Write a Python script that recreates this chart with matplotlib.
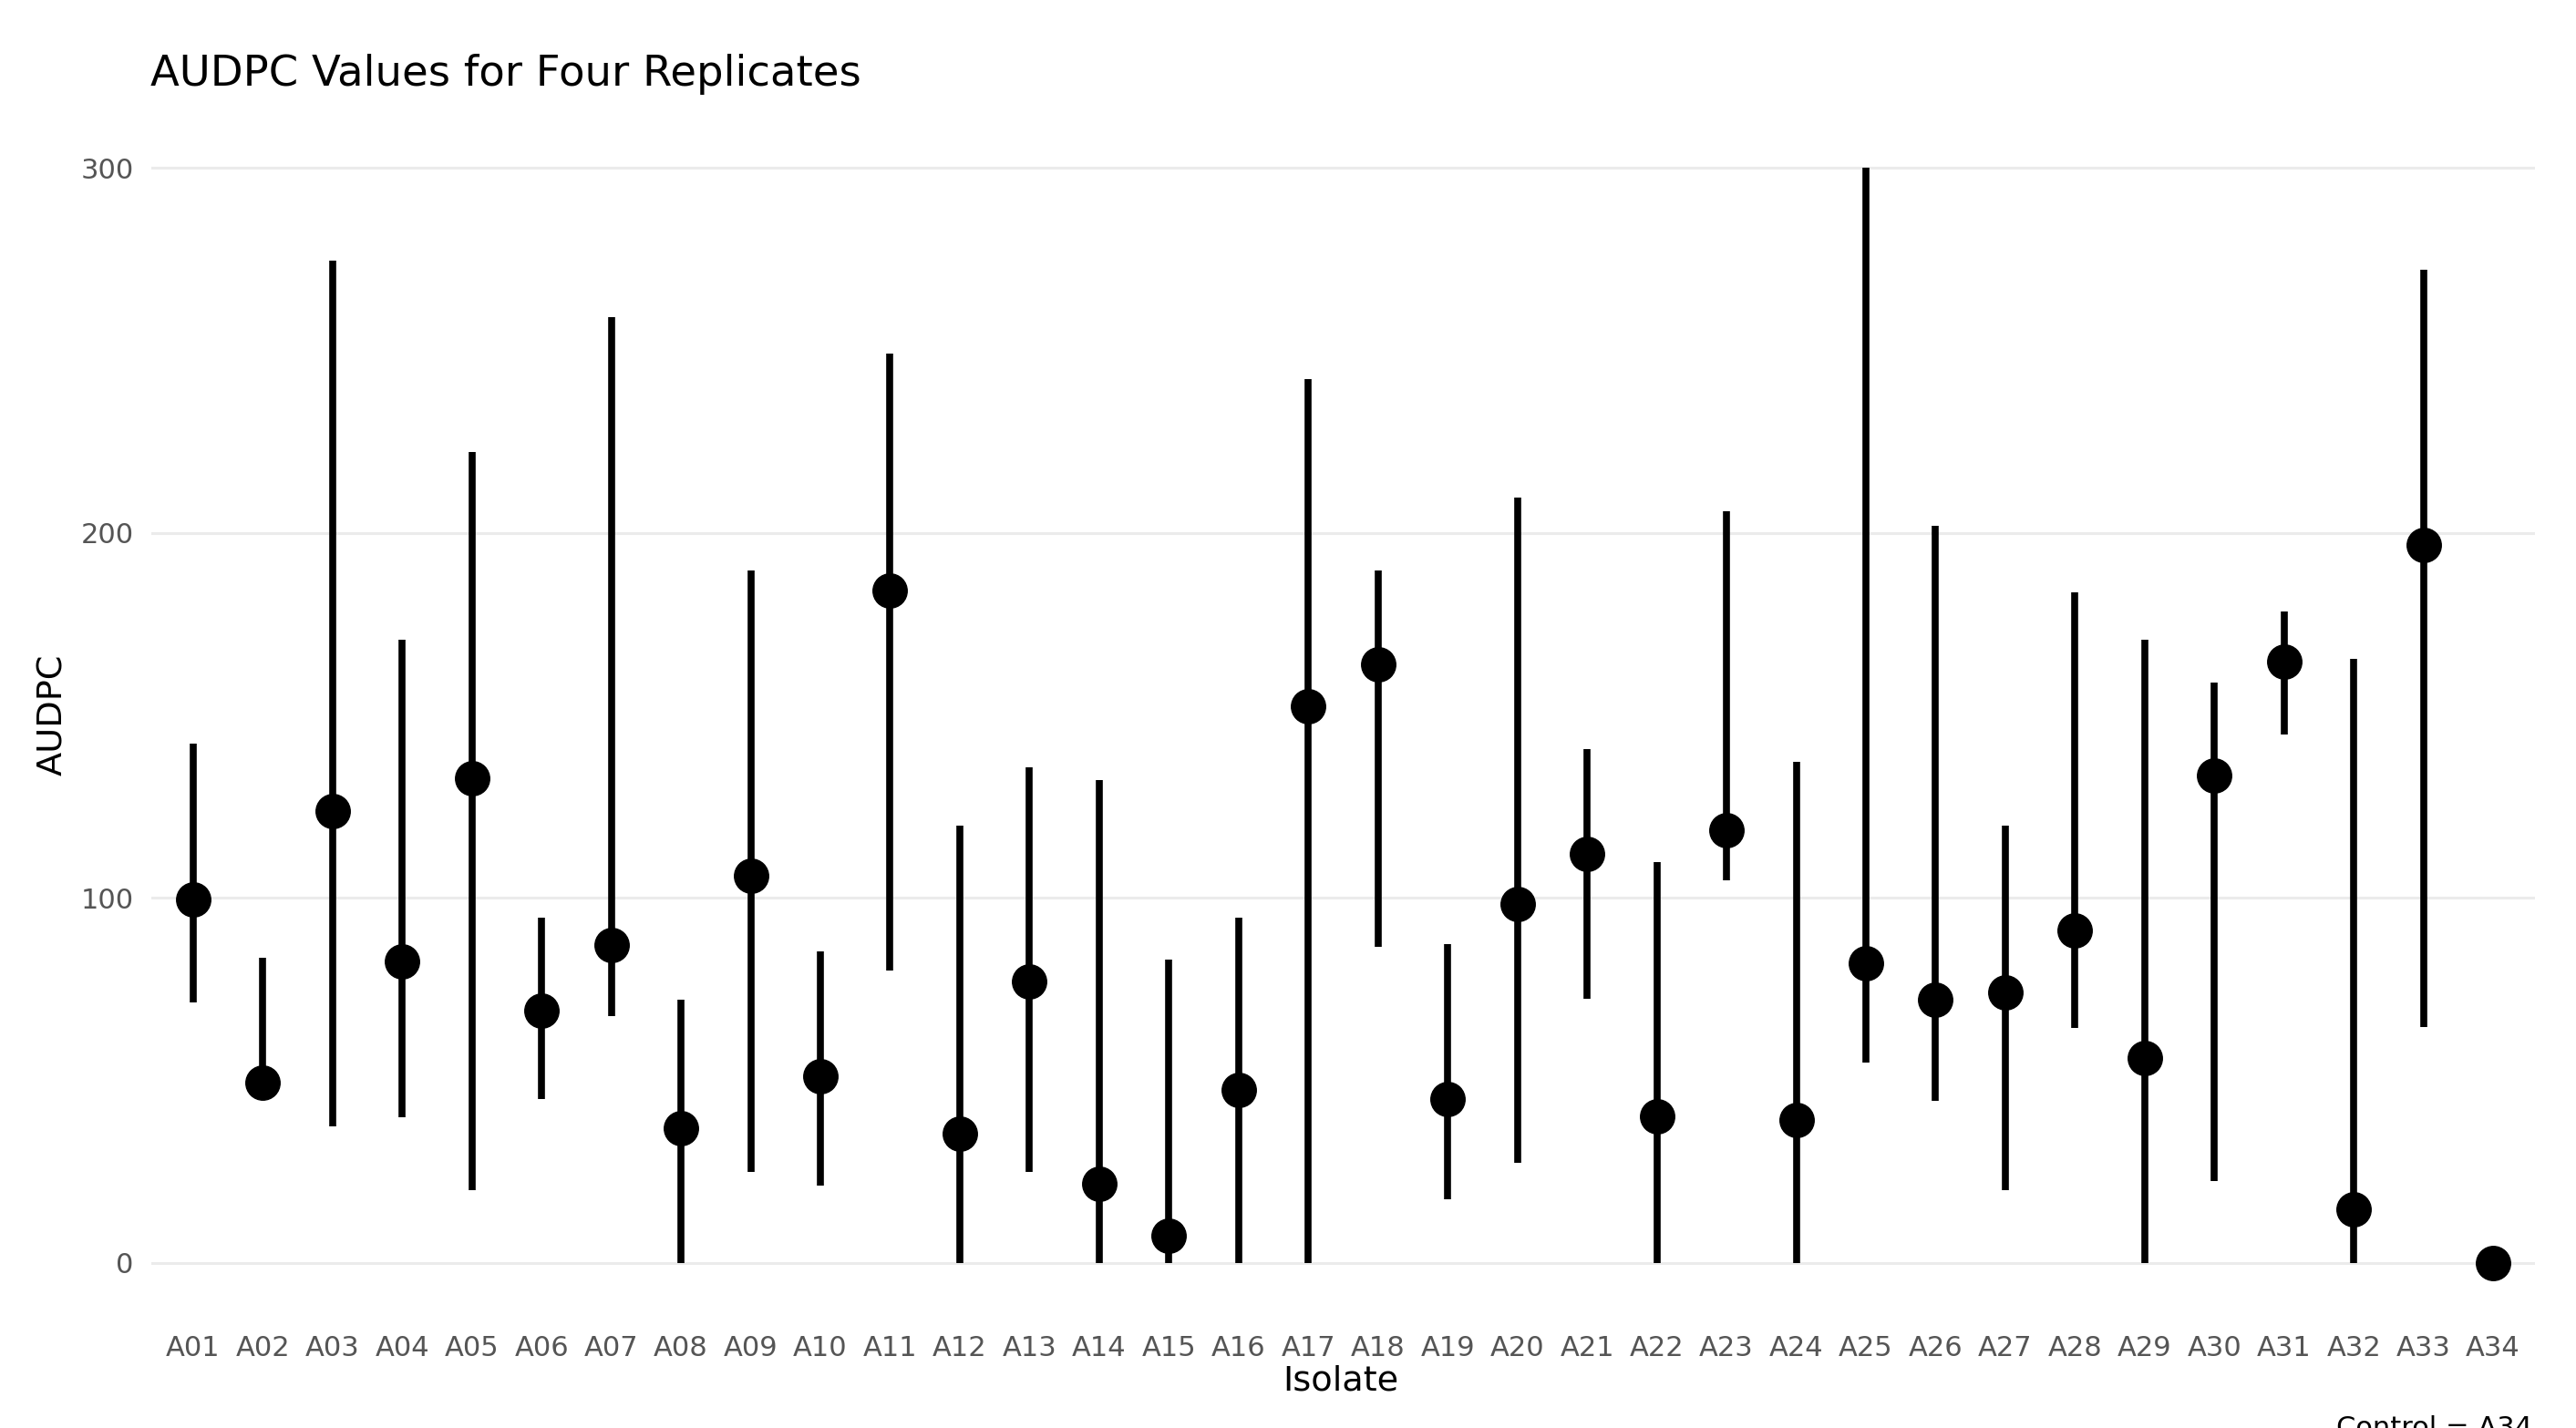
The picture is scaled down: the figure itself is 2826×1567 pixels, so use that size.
import matplotlib
matplotlib.use("Agg")
import matplotlib.pyplot as plt
import numpy as np

# Valors llegits del gràfic original
isolates = ["A%02d" % i for i in range(1, 35)]
audpc_mean = [99.7, 49.3, 123.8, 82.6, 132.8, 69.2, 87.1, 36.9, 106.1, 51.2,
              184.2, 35.5, 77.2, 21.7, 7.4, 47.5, 152.5, 164.1, 44.9, 98.3,
              112.1, 40.1, 118.6, 39.1, 82.2, 72.2, 74.2, 91.1, 56.2, 133.6,
              164.7, 14.8, 196.8, 0.0]
audpc_low = [71.4, 49.3, 37.5, 39.9, 19.9, 44.9, 67.6, 0.0, 24.9, 21.1,
             80.0, 0.0, 24.9, 0.0, 0.0, 0.0, 0.0, 86.5, 17.5, 27.5,
             72.4, 0.0, 104.7, 0.0, 55.0, 44.3, 19.9, 64.4, 0.0, 22.5,
             144.8, 0.0, 64.6, 0.0]
audpc_high = [142.2, 83.7, 274.6, 170.7, 222.1, 94.7, 259.2, 72.2, 189.6, 85.3,
              249.1, 119.8, 135.8, 132.2, 83.2, 94.7, 242.1, 189.6, 87.3, 209.6,
              140.8, 109.7, 206.0, 137.2, 300.0, 202.0, 119.8, 183.8, 170.7, 159.1,
              178.5, 165.5, 272.0, 0.0]
y_ticks = [0, 100, 200, 300]

W, H = 2826, 1567
fig = plt.figure(figsize=(W / 100, H / 100), dpi=100)
ax = fig.add_axes([166 / W, 1 - 1446 / H, (2781 - 166) / W, (1446 - 124) / H])

x = np.arange(len(isolates))
ax.vlines(x, audpc_low, audpc_high, color="black", lw=5.5, zorder=3)
ax.plot(x, audpc_mean, "o", color="black", markersize=27, zorder=4, clip_on=False)

ax.set_xlim(-0.6, len(isolates) - 0.4)
ax.set_ylim(-15, 315)
ax.set_xticks(x)
ax.set_xticklabels(isolates)
ax.set_yticks(y_ticks)
ax.tick_params(axis="both", length=0, labelsize=22, labelcolor="#555555")
ax.tick_params(axis="x", pad=14)
ax.tick_params(axis="y", pad=14)
ax.grid(axis="y", color="#ebebeb", lw=2.2, zorder=0)
ax.set_axisbelow(True)
for s in ax.spines.values():
    s.set_visible(False)

fig.text(165 / W, 1 - 82 / H, "AUDPC Values for Four Replicates",
         fontsize=33.5, color="black", va="center", ha="left")
fig.text(1471 / W, 1 - 1515 / H, "Isolate", fontsize=27.5, va="center", ha="center")
fig.text(58 / W, 1 - 784 / H, "AUDPC", fontsize=27.5, rotation=90, va="center", ha="center")
fig.text(2778 / W, 1 - 1553 / H, "Control = A34", fontsize=22, color="black",
         va="top", ha="right")

fig.savefig("out.png", dpi=100)
